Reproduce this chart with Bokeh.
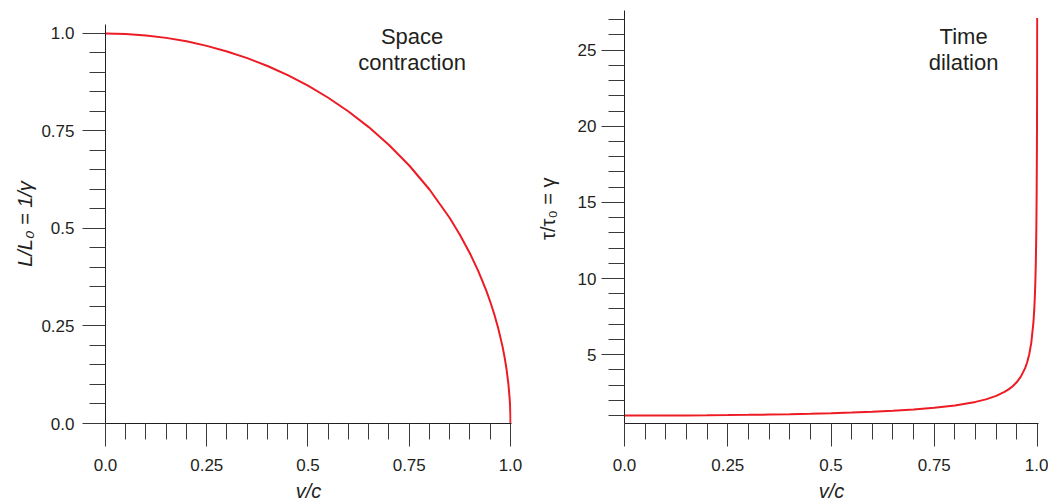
from bokeh.plotting import figure
from bokeh.layouts import row, column
from bokeh.models import Range1d, FixedTicker, ColumnDataSource
from bokeh.embed import file_html
from bokeh.resources import INLINE
from bokeh.core.properties import value

# ---------------- data ----------------
v_space = [0.0, 0.05, 0.1, 0.15, 0.2, 0.25, 0.3, 0.35, 0.4, 0.45, 0.5, 0.55, 0.6,
           0.65, 0.7, 0.75, 0.8, 0.85, 0.875, 0.9, 0.92, 0.94, 0.95, 0.96, 0.97,
           0.98, 0.985, 0.99, 0.995, 0.998, 0.999, 0.9998, 1.0]
L_space = [1.0, 0.99875, 0.99499, 0.98869, 0.9798, 0.96825, 0.95394, 0.93675,
           0.91652, 0.89303, 0.86603, 0.83516, 0.8, 0.75993, 0.71414, 0.66144,
           0.6, 0.52678, 0.48412, 0.43589, 0.39192, 0.34117, 0.31225, 0.28,
           0.2431, 0.199, 0.17255, 0.14107, 0.09987, 0.06321, 0.04471, 0.02, 0.0]

v_time = [0.0, 0.05, 0.1, 0.15, 0.2, 0.25, 0.3, 0.35, 0.4, 0.45, 0.5, 0.55, 0.6,
          0.65, 0.7, 0.75, 0.8, 0.85, 0.875, 0.9, 0.92, 0.93, 0.94, 0.95, 0.96,
          0.97, 0.975, 0.98, 0.985, 0.99, 0.991, 0.992, 0.993, 0.994, 0.995,
          0.996, 0.997, 0.9975, 0.998, 0.9985, 0.9988, 0.999, 0.9992, 0.99932]
gamma_time = [1.0, 1.00125, 1.005, 1.0114, 1.021, 1.0328, 1.048, 1.0675, 1.091,
              1.1198, 1.155, 1.1974, 1.25, 1.3159, 1.4003, 1.5119, 1.6667, 1.8983,
              2.0656, 2.2942, 2.5516, 2.7206, 2.9311, 3.2026, 3.5714, 4.1135,
              4.5004, 5.0252, 5.7953, 7.0888, 7.470, 7.921, 8.467, 9.142, 10.01,
              11.19, 12.92, 14.15, 15.82, 18.26, 20.42, 22.37, 25.0, 27.1]

frac_major = [0, 0.25, 0.5, 0.75, 1]
frac_major_labels = ["0.0", "0.25", "0.5", "0.75", "1.0"]
frac_minor = [0.05, 0.1, 0.15, 0.2, 0.3, 0.35, 0.4, 0.45, 0.55, 0.6, 0.65, 0.7,
              0.8, 0.85, 0.9, 0.95]
gamma_major = [5, 10, 15, 20, 25]
gamma_minor = [1, 2, 3, 4, 6, 7, 8, 9, 11, 12, 13, 14, 16, 17, 18, 19, 21, 22,
               23, 24, 26, 27]

title_space = ["Space", "contraction"]
title_time = ["Time", "dilation"]

# ---------------- style ----------------
FONT = "Liberation Sans"
INK = "#231f20"
RED = "#ed1c24"
NBSP = "\u00a0"


def style_axis(ax, major, minor, labels=None, standoff=8, label_standoff=5,
               label_style="italic"):
    ax.ticker = FixedTicker(ticks=major, minor_ticks=minor)
    if labels is not None:
        ax.major_label_overrides = {t: s for t, s in zip(major, labels)}
    ax.axis_line_color = INK
    ax.axis_line_width = 1
    ax.major_tick_line_color = "#3a3a3a"
    ax.minor_tick_line_color = "#3a3a3a"
    ax.major_tick_out = 23
    ax.major_tick_in = 0
    ax.minor_tick_out = 16
    ax.minor_tick_in = 0
    ax.major_label_text_font = FONT
    ax.major_label_text_font_size = "17px"
    ax.major_label_text_color = INK
    ax.major_label_standoff = standoff
    ax.axis_label_text_font = FONT
    ax.axis_label_text_font_size = "20px"
    ax.axis_label_text_color = INK
    ax.axis_label_text_font_style = label_style
    ax.axis_label_standoff = label_standoff


def base_fig(xr, yr, fw, fh, bl, br, bt, bb):
    p = figure(x_range=xr, y_range=yr, frame_width=fw, frame_height=fh,
               min_border_left=bl, min_border_right=br, min_border_top=bt,
               min_border_bottom=bb, output_backend="svg", toolbar_location=None,
               background_fill_color="white", border_fill_color="white")
    p.outline_line_color = None
    p.xgrid.visible = False
    p.ygrid.visible = False
    return p


# ---------------- left panel: space contraction ----------------
p1 = base_fig(Range1d(0, 1.0025), Range1d(0, 1.023), 406, 399, 105, 17, 24, 78)
src1 = ColumnDataSource(dict(v=v_space, L=L_space))
p1.line("v", "L", source=src1, line_color=RED, line_width=2)
style_axis(p1.xaxis[0], frac_major, frac_minor, frac_major_labels, standoff=12,
           label_standoff=6)
p1.xaxis[0].axis_label = "v/c"
style_axis(p1.yaxis[0], frac_major, frac_minor, frac_major_labels, standoff=8,
           label_standoff=2)
p1.yaxis[0].axis_label = NBSP * 2 + "L/L\u2080 = 1/\u03b3" + NBSP * 2
p1.text(x=[0.757, 0.757], y=[0.9915, 0.9255], text=title_space,
        text_font=value(FONT), text_font_size="22px", text_color=INK,
        text_align="center", text_baseline="alphabetic")

# ---------------- right panel: time dilation ----------------
p2 = base_fig(Range1d(0, 1.0024), Range1d(0.48, 27.6), 414, 413, 96, 10, 10, 78)
src2 = ColumnDataSource(dict(v=v_time, g=gamma_time))
p2.line("v", "g", source=src2, line_color=RED, line_width=2)
style_axis(p2.xaxis[0], frac_major, frac_minor, frac_major_labels, standoff=12,
           label_standoff=6)
p2.xaxis[0].axis_label = "v/c"
style_axis(p2.yaxis[0], gamma_major, gamma_minor, None, standoff=5,
           label_standoff=16, label_style="normal")
p2.yaxis[0].axis_label = NBSP * 3 + "\u03c4/\u03c4\u2080 = \u03b3"
p2.text(x=[0.821, 0.821], y=[25.875, 24.185], text=title_time,
        text_font=value(FONT), text_font_size="22px", text_color=INK,
        text_align="center", text_baseline="alphabetic")

layout = row(column(p1), column(p2), spacing=0)
open("out.html", "w").write(file_html(layout, INLINE))
